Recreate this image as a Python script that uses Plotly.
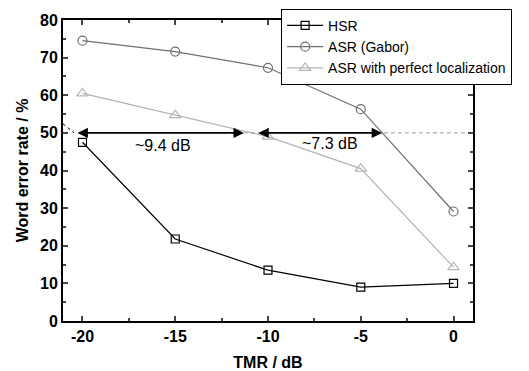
import plotly.graph_objects as go

tmr = [-20, -15, -10, -5, 0]
hsr = [47.5, 21.8, 13.5, 9.0, 10.0]
asr_gabor = [74.5, 71.6, 67.3, 56.3, 29.1]
asr_perfect = [60.5, 54.7, 49.0, 40.5, 14.3]
x_ticks = [-20, -15, -10, -5, 0]
y_ticks = [0, 10, 20, 30, 40, 50, 60, 70, 80]

FONT = "Liberation Sans, Arial"

fig = go.Figure()
fig.add_trace(go.Scatter(x=tmr, y=hsr, mode="lines+markers", name="HSR",
                         line=dict(color="black", width=1.2),
                         marker=dict(symbol="square-open", size=8, color="black", line=dict(width=1.2))))
fig.add_trace(go.Scatter(x=tmr, y=asr_gabor, mode="lines+markers", name="ASR (Gabor)",
                         line=dict(color="#707070", width=1.2),
                         marker=dict(symbol="circle-open", size=9, color="#707070", line=dict(width=1.2))))
fig.add_trace(go.Scatter(x=tmr, y=asr_perfect, mode="lines+markers", name="ASR with perfect localization",
                         line=dict(color="#b4b4b4", width=1.2),
                         marker=dict(symbol="triangle-up-open", size=10, color="#b4b4b4", line=dict(width=1.2))))

# reference lines at 50%
fig.add_trace(go.Scatter(x=[-11.3, 1.05], y=[50, 50], mode="lines", showlegend=False,
                         line=dict(color="#999999", width=1, dash="4px,3px"), hoverinfo="skip"))
fig.add_trace(go.Scatter(x=[-21.05, -20.45], y=[52.4, 50], mode="lines", showlegend=False,
                         line=dict(color="black", width=1, dash="dot"), hoverinfo="skip"))

arrows = [(-20.35, -11.3), (-10.6, -3.85)]
for a, b in arrows:
    fig.add_annotation(x=b, y=50, ax=a, ay=50, xref="x", yref="y", axref="x", ayref="y",
                       text="", showarrow=True, arrowhead=2, startarrowhead=2, arrowside="end+start",
                       arrowsize=1.3, startarrowsize=1.3, arrowwidth=1.6, arrowcolor="black")

fig.add_annotation(x=-15.66, y=46.6, text="~9.4 dB", showarrow=False, xref="x", yref="y",
                   font=dict(size=16, color="black", family=FONT))
fig.add_annotation(x=-6.65, y=47.3, text="~7.3 dB", showarrow=False, xref="x", yref="y",
                   font=dict(size=16, color="black", family=FONT))

fig.update_layout(
    width=529, height=371,
    margin=dict(l=63, r=56, t=20, b=50, autoexpand=False),
    plot_bgcolor="white", paper_bgcolor="white",
    font=dict(family=FONT, color="black"),
    legend=dict(x=0.532, y=1.037, xanchor="left", yanchor="top",
                bgcolor="white", bordercolor="black", borderwidth=1,
                font=dict(size=14, family=FONT),
                itemwidth=36, tracegroupgap=0),
    xaxis=dict(range=[-21.05, 1.05], tickvals=x_ticks, ticktext=[str(v) for v in x_ticks],
               ticks="inside", ticklen=5, tickwidth=1.5, showline=True, linewidth=2, linecolor="black",
               mirror="ticks", showgrid=False, zeroline=False, automargin=False,
               tickfont=dict(size=16, family=FONT, weight="bold"),
               minor=dict(ticks="inside", ticklen=3, tickwidth=1.5, dtick=2.5, tick0=0, showgrid=False),
               title=dict(text="<b>TMR / dB</b>", font=dict(size=16, family=FONT), standoff=14)),
    yaxis=dict(range=[0, 80], tickvals=y_ticks,
               ticks="inside", ticklen=5, tickwidth=1.5, showline=True, linewidth=2, linecolor="black",
               mirror="ticks", showgrid=False, zeroline=False, automargin=False,
               tickfont=dict(size=16, family=FONT, weight="bold"),
               minor=dict(ticks="inside", ticklen=3, tickwidth=1.5, dtick=5, tick0=0, showgrid=False),
               title=dict(text="<b>Word error rate / %</b>", font=dict(size=16, family=FONT), standoff=7)),
)

fig.write_html("out.html", config={"displayModeBar": False},
               post_script="document.body.style.margin='0';document.body.style.padding='0';")
